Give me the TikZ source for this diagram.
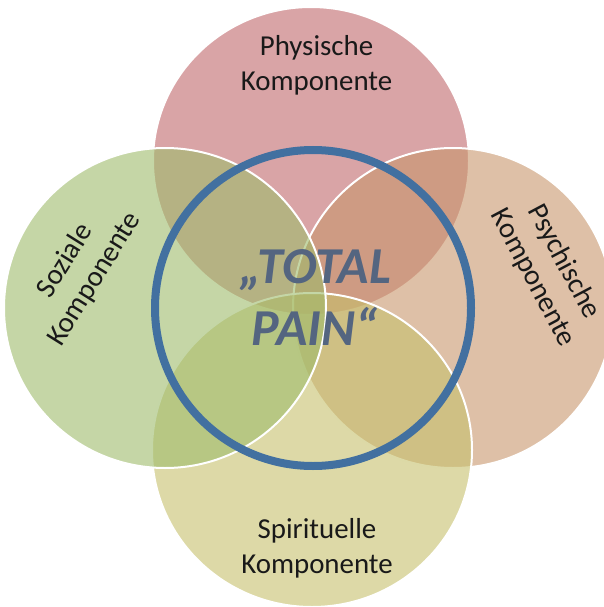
\documentclass[tikz,border=0pt]{standalone}
\usepackage{fontspec}
\setmainfont{Carlito}
\usepackage{xcolor}
\usepackage{tikz}

\definecolor{physred}{RGB}{192,103,107}
\definecolor{psychtan}{RGB}{200,150,108}
\definecolor{spiritolive}{RGB}{198,192,108}
\definecolor{sozialgreen}{RGB}{158,187,107}
\definecolor{ringblue}{RGB}{66,112,160}
\definecolor{painblue}{RGB}{84,101,128}

\begin{document}
\begin{tikzpicture}[
    x=1bp, y=-1bp,
    comp/.style={draw=white, line width=2bp, fill opacity=0.6},
    complabel/.style={align=center, inner sep=0pt, text=black!90, font=\fontsize{29}{35}\selectfont},
    ring/.style={draw=ringblue, line width=8bp},
    painlabel/.style={align=center, inner sep=0pt, text=painblue, font=\fontsize{52}{62}\selectfont\bfseries\itshape}
]
    \useasboundingbox (0,0) rectangle (604,607);

    % Circles
    \draw[comp, fill=physred] (311,161) ellipse [x radius=158, y radius=154];
    \draw[comp, fill=psychtan] (453,308) ellipse [x radius=160, y radius=160];
    \draw[comp, fill=spiritolive] (312,450) ellipse [x radius=160, y radius=157];
    \draw[comp, fill=sozialgreen] (165,308) ellipse [x radius=161, y radius=160];

    % Ring
    \draw[ring] (313,308) circle [radius=158];

    % Labels
    \node[complabel] (phys) at (316.5,65) {Physische\\Komponente};
    \node[complabel] (spirit) at (317,548) {Spirituelle\\Komponente};
    \node[complabel, rotate=58] (sozial) at (80,270) {Soziale\\Komponente};
    \node[complabel, rotate=-62] (psych) at (548,270) {Psychische\\Komponente};
    \node[painlabel] (pain) at (315,297.5) {„TOTAL\\PAIN“};
\end{tikzpicture}
\end{document}
